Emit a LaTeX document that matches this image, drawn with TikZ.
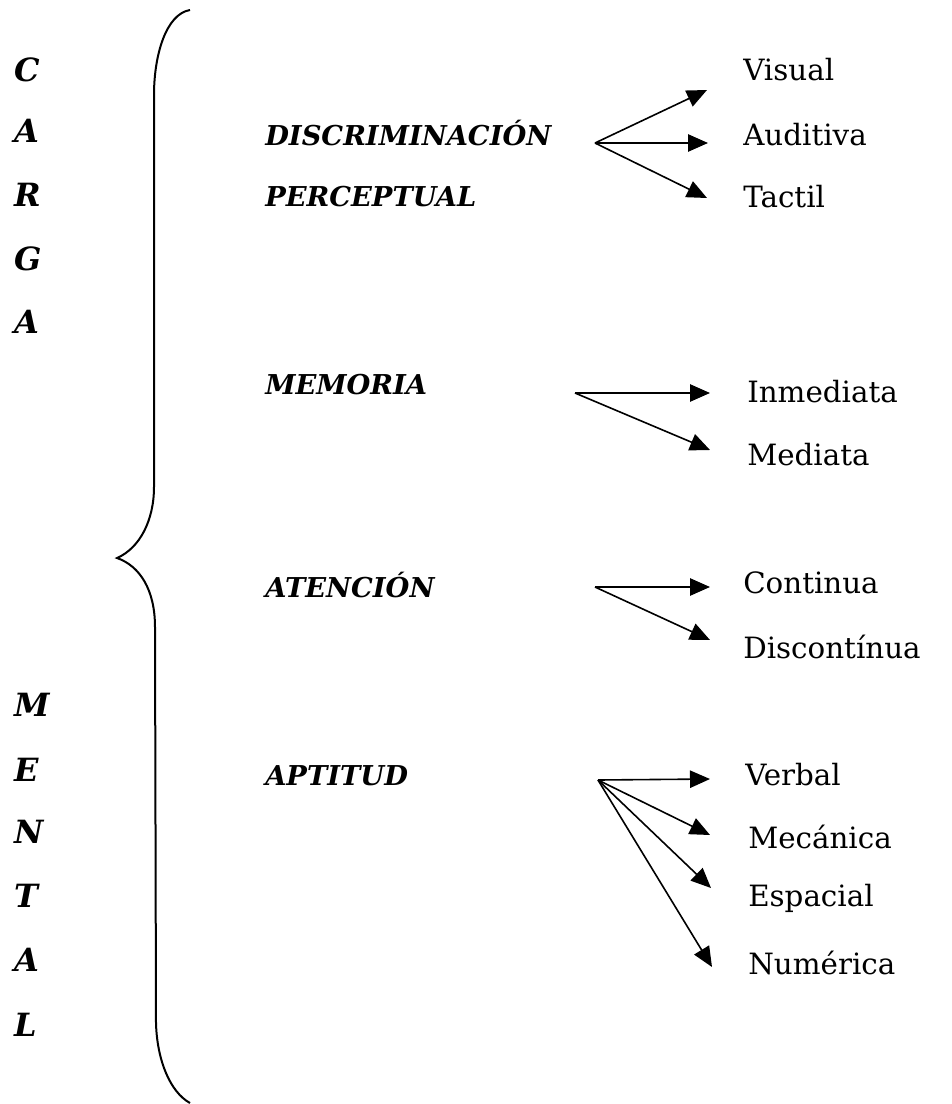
\documentclass[tikz,border=0pt]{standalone}
\usepackage{fontspec}
\setmainfont{DejaVu Serif}
\usetikzlibrary{arrows.meta}
\tikzset{
  big/.style={font=\fontsize{24}{28}\selectfont\bfseries\itshape, anchor=west, inner sep=0pt},
  head/.style={font=\fontsize{20.5}{24}\selectfont\bfseries\itshape, anchor=west, inner sep=0pt},
  leaf/.style={font=\fontsize{22}{26}\selectfont, anchor=west, inner sep=0pt},
  arr/.style={line width=1.2pt, -{Triangle[length=15pt,width=13pt]}},
  brace/.style={line width=1.5pt}
}
\begin{document}
\begin{tikzpicture}[x=0.75pt,y=-0.75pt]
\useasboundingbox (0,0) rectangle (951,1104);
% brace
\draw[brace] (190,10) .. controls (166,14) and (154,55) .. (154,95)
  -- (154,487) .. controls (154,520) and (140,548) .. (117,558)
  .. controls (140,566) and (155,590) .. (155,627)
  -- (156,1023) .. controls (157,1060) and (170,1092) .. (190,1103);
% side letters
\node[big] (c1) at (14,70) {C};
\node[big] (c2) at (14,131) {A};
\node[big] (c3) at (14,195) {R};
\node[big] (c4) at (14,259) {G};
\node[big] (c5) at (14,322) {A};
\node[big] (m1) at (14,705) {M};
\node[big] (m2) at (14,770) {E};
\node[big] (m3) at (14,832) {N};
\node[big] (m4) at (14,896) {T};
\node[big] (m5) at (14,960) {A};
\node[big] (m6) at (14,1025) {L};
% headings
\node[head] (disc) at (265,133) {DISCRIMINACIÓN};
\node[head] (perc) at (265,197) {PERCEPTUAL};
\node[head] (mem) at (265,385) {MEMORIA};
\node[head] (ate) at (265,585) {ATENCIÓN};
\node[head] (apt) at (265,776) {APTITUD};
% leaves
\node[leaf] (vis) at (743,70) {Visual};
\node[leaf] (aud) at (743,135) {Auditiva};
\node[leaf] (tac) at (743,197) {Tactil};
\node[leaf] (inm) at (747,392) {Inmediata};
\node[leaf] (med) at (747,455) {Mediata};
\node[leaf] (con) at (743,583) {Continua};
\node[leaf] (dis) at (743,647) {Discontínua};
\node[leaf] (ver) at (745,775) {Verbal};
\node[leaf] (mec) at (748,837) {Mecánica};
\node[leaf] (esp) at (748,898) {Espacial};
\node[leaf] (num) at (748,963) {Numérica};
% origins and tips
\coordinate (o1) at (595,143);
\coordinate (t11) at (707,90);
\coordinate (t12) at (708,143);
\coordinate (t13) at (707,198);
\coordinate (o2) at (575,393);
\coordinate (t21) at (710,393);
\coordinate (t22) at (710,450);
\coordinate (o3) at (595,587);
\coordinate (t31) at (710,587);
\coordinate (t32) at (710,640);
\coordinate (o4) at (598,780);
\coordinate (t41) at (710,779);
\coordinate (t42) at (710,835);
\coordinate (t43) at (711,888);
\coordinate (t44) at (712,967);
\draw[arr] (o1) -- (t11);
\draw[arr] (o1) -- (t12);
\draw[arr] (o1) -- (t13);
\draw[arr] (o2) -- (t21);
\draw[arr] (o2) -- (t22);
\draw[arr] (o3) -- (t31);
\draw[arr] (o3) -- (t32);
\draw[arr] (o4) -- (t41);
\draw[arr] (o4) -- (t42);
\draw[arr] (o4) -- (t43);
\draw[arr] (o4) -- (t44);
\end{tikzpicture}
\end{document}
